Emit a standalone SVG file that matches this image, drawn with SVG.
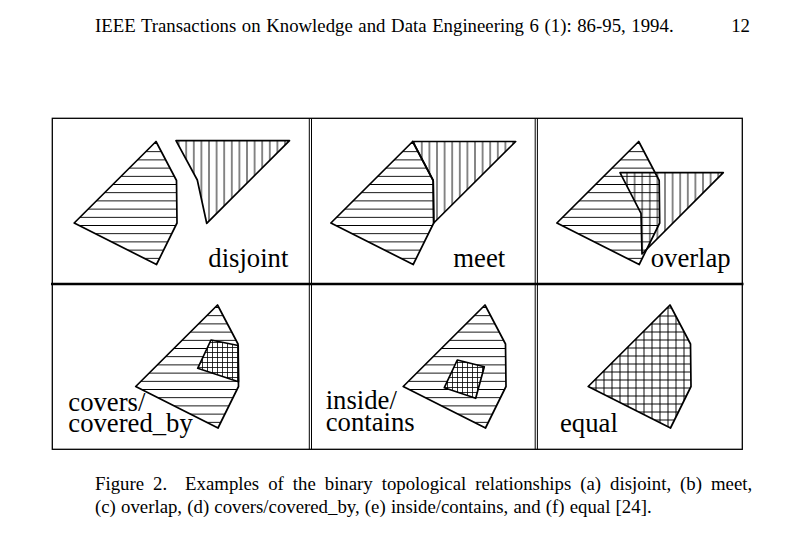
<svg xmlns="http://www.w3.org/2000/svg" width="788" height="547" viewBox="0 0 788 547">
<style>
  text{font-family:"Liberation Serif","Times New Roman",serif;fill:#000}
  .hdr{font-size:18.8px;word-spacing:0.9px}
  .cap1{font-size:18.8px;white-space:pre;word-spacing:4.3px}
  .cap2{font-size:18.8px;word-spacing:0.5px}
  .lbl{font-size:26.7px}
  .frame{stroke:#000;fill:none}
  .shape{stroke:#000;stroke-width:1.7;stroke-linejoin:round}
  .h{fill:url(#hatchH)}
  .v{fill:url(#hatchV)}
  .g{fill:url(#grid)}
  .fg{fill:url(#fineGrid)}
</style>
<defs>
  <pattern id="hatchH" patternUnits="userSpaceOnUse" width="10" height="8.2"><path d="M0,4.1H10" stroke="#000" stroke-width="0.95"/></pattern>
  <pattern id="hatchV" patternUnits="userSpaceOnUse" width="7.6" height="10"><path d="M3.8,0V10" stroke="#000" stroke-width="0.95"/></pattern>
  <pattern id="grid" patternUnits="userSpaceOnUse" width="8" height="8"><path d="M0,4H8M4,0V8" stroke="#000" stroke-width="0.95"/></pattern>
  <pattern id="fineGrid" patternUnits="userSpaceOnUse" width="5" height="5"><rect width="5" height="5" fill="#fff"/><path d="M0,2.5H5M2.5,0V5" stroke="#000" stroke-width="0.8"/></pattern>
</defs>
<rect width="788" height="547" fill="#fff"/>

<g id="header">
  <text class="hdr" x="95" y="32">IEEE Transactions on Knowledge and Data Engineering 6 (1): 86-95, 1994.</text>
  <text class="hdr" x="750" y="32" text-anchor="end">12</text>
</g>

<g id="frame" class="frame">
  <rect x="52.3" y="118.3" width="690" height="331" stroke-width="1.3"/>
  <path d="M309.3,118.3V449.3M311.5,118.3V449.3M535.2,118.3V449.3M537.4,118.3V449.3" stroke-width="1"/>
  <path d="M51,284H743.5" stroke-width="2.6"/>
</g>

<g id="panel-disjoint">
  <polygon class="shape h" points="156,141.5 176.5,180.5 177,223 156.5,264.5 74.2,223"/>
  <polygon class="shape v" points="176,140.7 289.5,140.7 206.7,223.3 197.3,180"/>
  <text class="lbl" x="208.3" y="267">disjoint</text>
</g>

<g id="panel-meet">
  <polygon class="shape h" points="412.7,141.5 433.2,180.5 433.7,223 413.2,264.5 330.9,223"/>
  <polygon class="shape v" points="412.7,141.5 515.7,141.5 433.7,223 433.2,180.5"/>
  <text class="lbl" x="453.3" y="267">meet</text>
</g>

<g id="panel-overlap">
  <polygon class="shape h" points="638.7,141.5 659.2,180.5 659.7,223 639.2,264.5 556.9,223"/>
  <polygon class="shape v" points="620,172.7 723.3,172.7 642,254 641,213.3"/>
  <text class="lbl" x="650.7" y="267">overlap</text>
</g>

<g id="panel-covers">
  <polygon class="shape h" points="217.5,305 238,344 238.5,386.5 218,428 135.7,386.5"/>
  <polygon class="shape fg" points="211,340 238.2,345.5 238.5,381.7 197.7,368.3"/>
  <text class="lbl" x="68.3" y="410.7">covers/<tspan x="68.3" y="431.7">covered_by</tspan></text>
</g>

<g id="panel-inside">
  <polygon class="shape h" points="485,305 505.5,344 506,386.5 485.5,428 403.2,386.5"/>
  <polygon class="shape fg" points="457.3,360 484.3,366.7 475.7,398.3 444.3,387.7"/>
  <text class="lbl" x="325.7" y="409.3">inside/<tspan x="325.7" y="430.7">contains</tspan></text>
</g>

<g id="panel-equal">
  <polygon class="shape g" points="670,305 690.5,344 691,386.5 670.5,428 588.2,386.5"/>
  <text class="lbl" x="560" y="431.7">equal</text>
</g>

<g id="connectors"></g>

<g id="caption">
  <text class="cap1" x="95" y="490">Figure 2.  Examples of the binary topological relationships (a) disjoint, (b) meet,</text>
  <text class="cap2" x="95" y="513">(c) overlap, (d) covers/covered_by, (e) inside/contains, and (f) equal [24].</text>
</g>
</svg>
